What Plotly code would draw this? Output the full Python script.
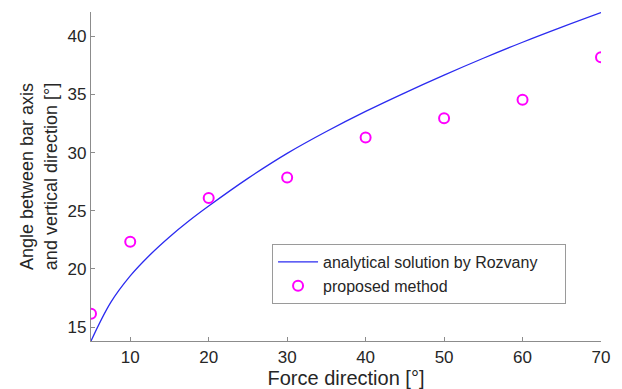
import plotly.graph_objects as go

# Analytical curve
force_dir_curve = [5, 7.5, 10, 12.5, 15, 17.5, 20, 25, 30, 35, 40, 45, 50, 55, 60, 65, 70]
angle_curve = [13.8, 17.1, 19.4, 21.2, 22.75, 24.14, 25.41, 27.79, 29.94, 31.82, 33.55,
               35.15, 36.67, 38.12, 39.5, 40.8, 42.05]

# Proposed method points
force_dir_pts = [5, 10, 20, 30, 40, 50, 60, 70]
angle_pts = [16.15, 22.34, 26.1, 27.86, 31.3, 32.96, 34.55, 38.2]

x_ticks = [10, 20, 30, 40, 50, 60, 70]
y_ticks = [15, 20, 25, 30, 35, 40]

FONT = "Liberation Sans, Arial, sans-serif"
TXT = "#262626"
AX = "#8c8c8c"
PAD = "\u00a0" * 5

fig = go.Figure()
fig.add_trace(go.Scatter(
    x=force_dir_curve, y=angle_curve, mode="lines", line_shape="spline",
    line=dict(color="#2b2bf0", width=1.3, smoothing=1.0),
    name="analytical solution by Rozvany" + PAD))
fig.add_trace(go.Scatter(
    x=force_dir_pts, y=angle_pts, mode="markers",
    marker=dict(symbol="circle-open", size=10, color="#ff00ff", line=dict(width=2, color="#ff00ff")),
    name="proposed method"))

fig.update_layout(
    width=622, height=389,
    margin=dict(l=91, r=21, t=12, b=48),
    paper_bgcolor="white", plot_bgcolor="white",
    font=dict(family=FONT, color=TXT, size=17),
    showlegend=True,
    legend=dict(x=0.355, y=0.295, xanchor="left", yanchor="top",
                bgcolor="white", bordercolor="#9a9a9a", borderwidth=1,
                itemwidth=40,
                font=dict(size=16, color=TXT), tracegroupgap=0),
    xaxis=dict(range=[5, 70], tickvals=x_ticks, ticks="inside", ticklen=4,
               tickcolor=AX, showline=True, linecolor=AX, linewidth=1.2,
               showgrid=False, zeroline=False, mirror=False, automargin=False,
               tickfont=dict(size=17, color=TXT),
               title=dict(text="Force direction [°]", font=dict(size=20, color=TXT), standoff=0)),
    yaxis=dict(range=[13.8, 42.1], tickvals=y_ticks, ticks="inside", ticklen=4,
               tickcolor=AX, showline=True, linecolor=AX, linewidth=1.2,
               showgrid=False, zeroline=False, mirror=False, automargin=False,
               tickfont=dict(size=17, color=TXT),
               title=dict(text="Angle between bar axis<br>and vertical direction [°]",
                          font=dict(size=18, color=TXT), standoff=5)),
)

fig.write_html("out.html", config={"displayModeBar": False},
               post_script="document.body.style.margin='0';")
